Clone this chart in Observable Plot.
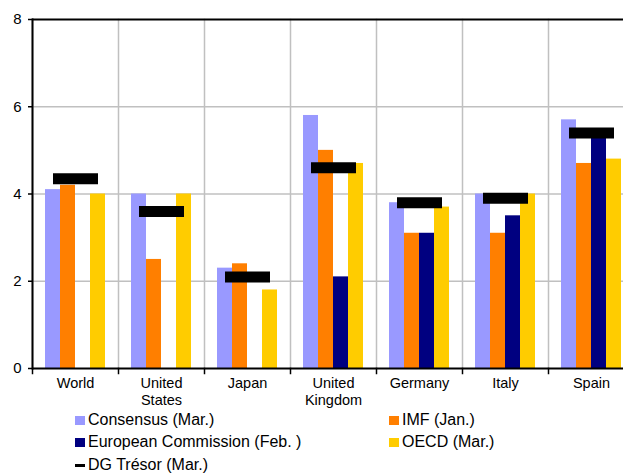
<!DOCTYPE html>
<html>
<head>
<meta charset="utf-8">
<script src="https://cdn.jsdelivr.net/npm/d3@7"></script>
<script src="https://cdn.jsdelivr.net/npm/@observablehq/plot@0.6"></script>
<style>
  html, body { margin: 0; padding: 0; background: #fff; }
  #wrap { position: relative; width: 623px; height: 473px; overflow: hidden; font-family: "Liberation Sans", Arial, sans-serif; color: #000; }
  #chart svg { display: block; }
  .lg { position: absolute; font-size: 16px; line-height: 18px; white-space: nowrap; display: flex; align-items: center; }
  .sw { display: inline-block; width: 10px; height: 9px; margin-right: 3px; }
  .dash { display: inline-block; width: 10px; height: 3px; background: #000; margin-right: 3px; }
</style>
</head>
<body>
<div id="wrap">
  <div id="chart"></div>
  <div id="legend"></div>
</div>
<script>
// ---- data ----
const countries = ["World", "United States", "Japan", "United Kingdom", "Germany", "Italy", "Spain"];
const countryLabels = ["World", "United\nStates", "Japan", "United\nKingdom", "Germany", "Italy", "Spain"];
const series = ["Consensus (Mar.)", "IMF (Jan.)", "European Commission (Feb. )", "OECD (Mar.)"];
const seriesColors = ["#9999ff", "#ff7f00", "#000080", "#ffcc00"];
const consensus = [4.1, 4.0, 2.3, 5.8, 3.8, 4.0, 5.7];
const imf = [4.2, 2.5, 2.4, 5.0, 3.1, 3.1, 4.7];
const commission = [null, null, null, 2.1, 3.1, 3.5, 5.3];
const oecd = [4.0, 4.0, 1.8, 4.7, 3.7, 4.0, 4.8];
const dgTresor = [4.35, 3.6, 2.1, 4.6, 3.8, 3.9, 5.4];
const dgLabel = "DG Trésor (Mar.)";
const yTicks = [0, 2, 4, 6, 8];

// ---- tables built from the arrays ----
const seriesValues = [consensus, imf, commission, oecd];
const bars = [];
series.forEach((s, i) => {
  countries.forEach((c, j) => {
    const v = seriesValues[i][j];
    if (v != null) bars.push({country: c, series: s, value: v});
  });
});
const dg = countries.map((c, j) => ({country: c, value: dgTresor[j]}));
const labels = countries.map((c, j) => ({country: c, label: countryLabels[j]}));

const H = 411;
const chart = Plot.plot({
  width: 623,
  height: H,
  marginLeft: 32,
  marginRight: 0,
  marginTop: 19,
  marginBottom: H - 368,
  style: {fontFamily: '"Liberation Sans", Arial, sans-serif', fontSize: "15px", color: "#000", background: "#fff", overflow: "hidden"},
  fx: {domain: countries, range: [32, 634], padding: 0, axis: null, label: null},
  x: {domain: series, paddingInner: 0, paddingOuter: 0.8, axis: null},
  y: {domain: [0, 8], axis: null},
  color: {domain: series, range: seriesColors},
  marks: [
    Plot.gridY(yTicks.filter(t => t > 0 && t < 8), {stroke: "#c0c0c0", strokeOpacity: 1, strokeWidth: 1.5}),
    Plot.frame({anchor: "left", stroke: "#c0c0c0", strokeWidth: 1.5}),
    Plot.barY(bars, {fx: "country", x: "series", y: "value", fill: "series"}),
    Plot.tickY(dg, {fx: "country", y: "value", stroke: "#000", strokeWidth: 11, insetLeft: 21, insetRight: 20}),
    Plot.ruleY([0], {stroke: "#000", strokeWidth: 2}),
    Plot.ruleY([8], {stroke: "#000", strokeWidth: 2}),
    Plot.frame({anchor: "left", stroke: "#000", strokeWidth: 1.5, insetTop: 349, insetBottom: -5}),
    Plot.frame({anchor: "left", stroke: "#000", strokeWidth: 2, facetAnchor: "left"}),
    Plot.axisY({ticks: yTicks, tickSize: 4, tickPadding: 7, tickFormat: d => String(d), stroke: "#000", strokeWidth: 1.5, fontSize: 15, label: null}),
    Plot.text(labels, {fx: "country", text: "label", frameAnchor: "bottom", lineAnchor: "top", dy: 7, fontSize: 14.5, lineHeight: 1.2, fill: "#000"})
  ]
});
document.getElementById("chart").appendChild(chart);

// ---- legend (HTML, below the SVG) ----
const legend = document.getElementById("legend");
const legendItems = [
  {label: series[0], color: seriesColors[0], left: 75, top: 411},
  {label: series[1], color: seriesColors[1], left: 389, top: 411},
  {label: series[2], color: seriesColors[2], left: 75, top: 433},
  {label: series[3], color: seriesColors[3], left: 389, top: 433},
  {label: dgLabel, color: null, left: 75, top: 456}
];
legendItems.forEach(it => {
  const d = document.createElement("div");
  d.className = "lg";
  d.style.left = it.left + "px";
  d.style.top = it.top + "px";
  const m = document.createElement("span");
  if (it.color) { m.className = "sw"; m.style.background = it.color; } else { m.className = "dash"; }
  d.appendChild(m);
  d.appendChild(document.createTextNode(it.label));
  legend.appendChild(d);
});
</script>
</body>
</html>
